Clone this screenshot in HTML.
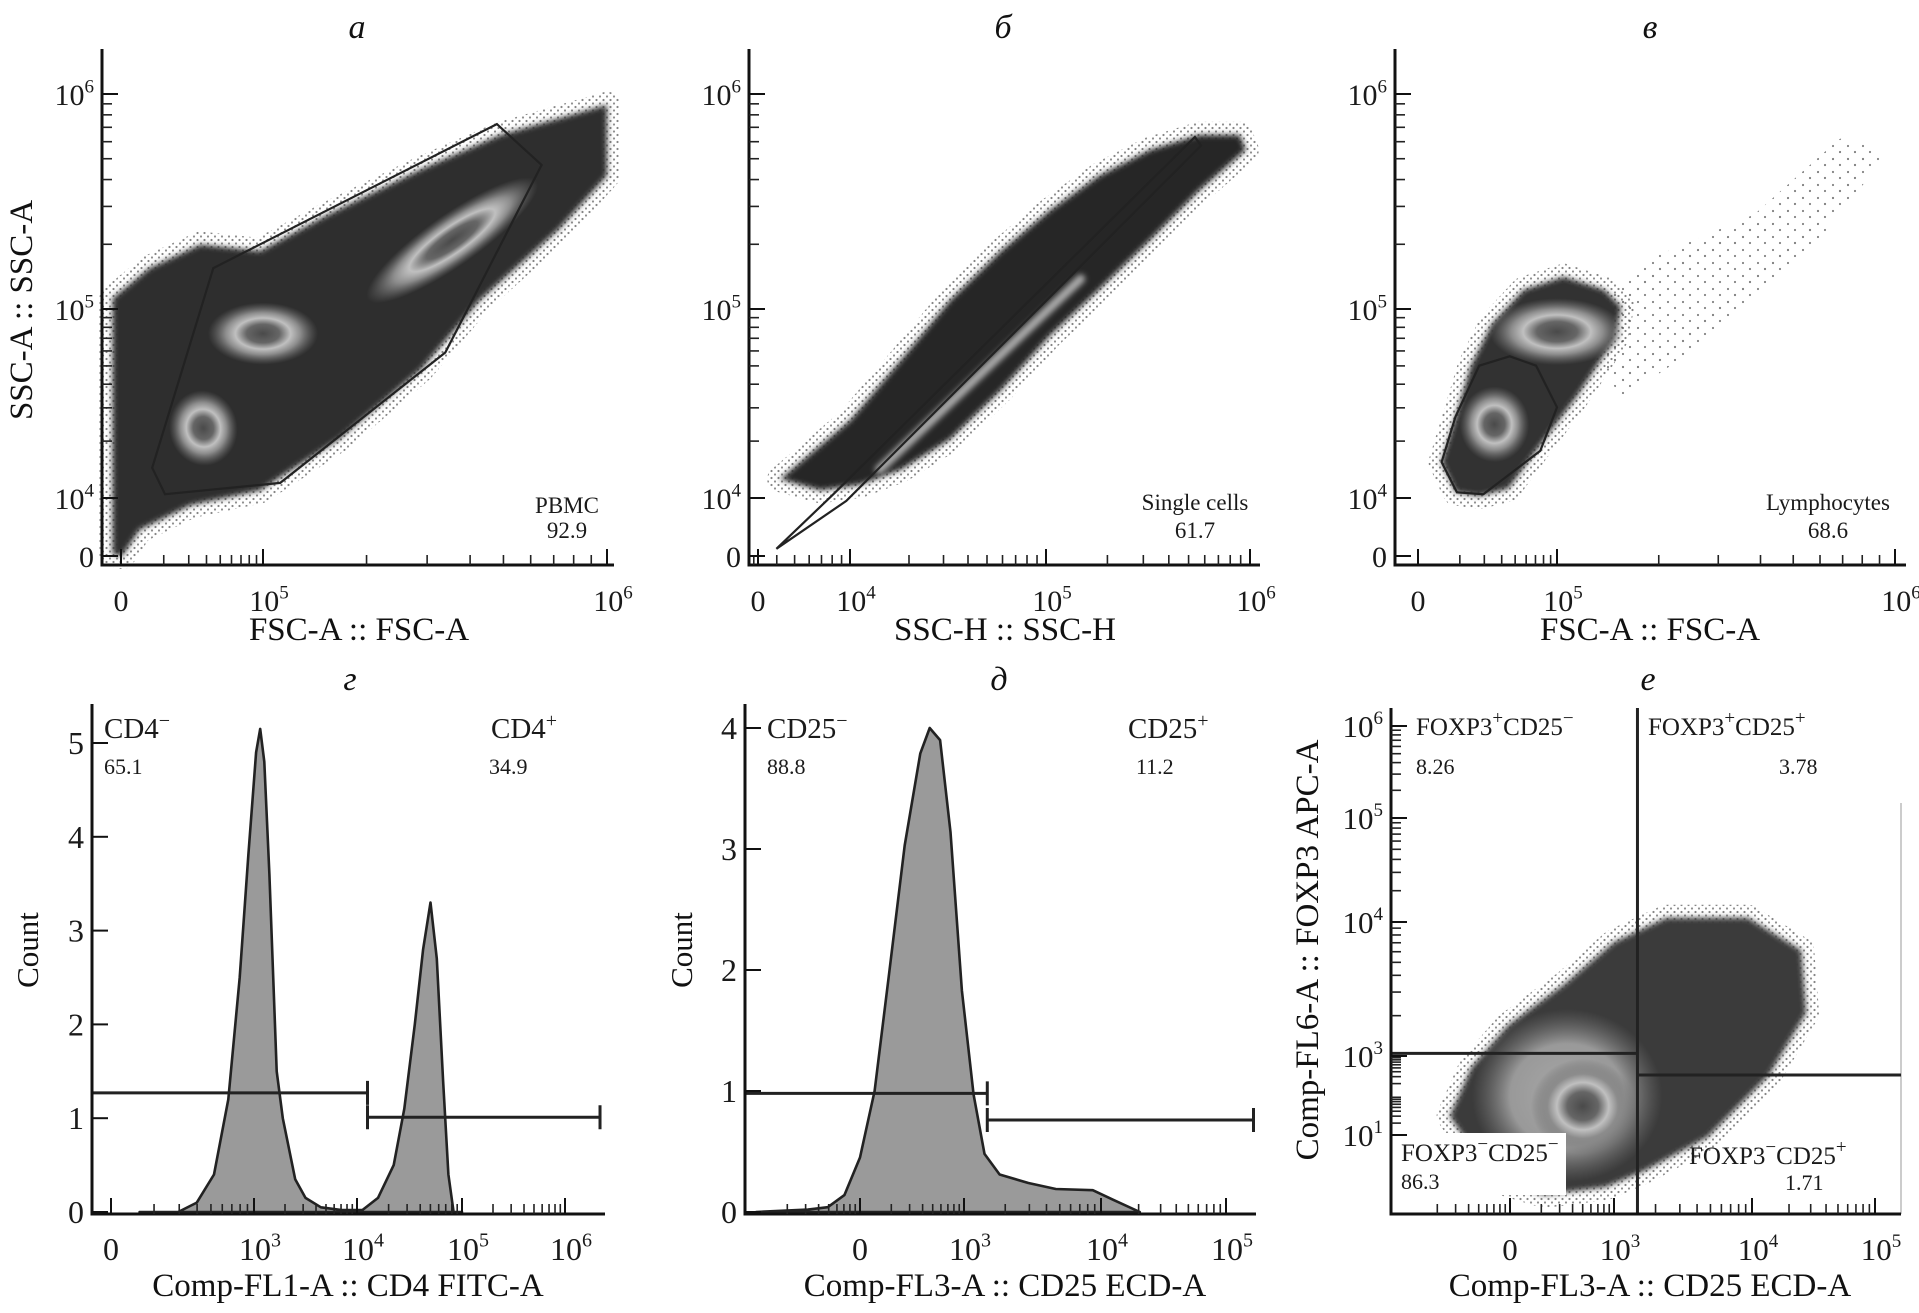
<!DOCTYPE html>
<html><head><meta charset="utf-8">
<style>
html,body{margin:0;padding:0;background:#fff;}
svg{display:block;font-family:"Liberation Serif","Noto Serif CJK SC",serif;}
</style></head>
<body>
<svg id="fig" width="1919" height="1313" viewBox="0 0 1919 1313" xmlns="http://www.w3.org/2000/svg">
<defs>
<pattern id="dots" width="7" height="7" patternUnits="userSpaceOnUse"><circle cx="1.5" cy="2" r="1.1" fill="#222"/><circle cx="5" cy="5.5" r="1.1" fill="#333"/></pattern>
<pattern id="sparse" width="15" height="13" patternUnits="userSpaceOnUse"><circle cx="3" cy="3" r="1.1" fill="#333"/><circle cx="10" cy="9" r="1.1" fill="#333"/></pattern>
<radialGradient id="ring"><stop offset="0" stop-color="#4a4a4a"/><stop offset="0.3" stop-color="#666"/><stop offset="0.5" stop-color="#c0c0c0"/><stop offset="0.68" stop-color="#8c8c8c"/><stop offset="1" stop-color="#6a6a6a" stop-opacity="0"/></radialGradient>
<radialGradient id="soft"><stop offset="0" stop-color="#a8a8a8"/><stop offset="0.6" stop-color="#999"/><stop offset="1" stop-color="#777" stop-opacity="0"/></radialGradient>
<filter id="blur" x="-10%" y="-10%" width="120%" height="120%"><feGaussianBlur stdDeviation="3"/></filter>
<clipPath id="eclip"><rect x="1392" y="700" width="510" height="513"/></clipPath>
</defs>
<rect x="0" y="0" width="1919" height="1313" fill="#fff"/>
</svg>
<script>
// ---------- data ----------
const yTopTicks=[3.6,4,5,6];
const yTopLabels=['0','10^4','10^5','10^6'];
const aXTicks=[4,5,6];
const aXLabels=['0','10^5','10^6'];
const bXTicks=[3.5,4,5,6];
const bXLabels=['0','10^4','10^5','10^6'];
const cXTicks=[4,5,6];
const cXLabels=['0','10^5','10^6'];
const gXTicks=[2,3,4,5,6];
const gXLabels=['0','10^3','10^4','10^5','10^6'];
const gYTicks=[0,1,2,3,4,5];
const dXTicks=[2,3,4,5];
const dXLabels=['0','10^3','10^4','10^5'];
const dYTicks=[0,1,2,3,4];
const eXTicks=[2,3,4,5];
const eXLabels=['0','10^3','10^4','10^5'];
const eYTicks=[1,3,4,5,6];
const eYLabels=['10^1','10^3','10^4','10^5','10^6'];

// histogram г (CD4)
const gX=[2.2,2.47,2.6,2.72,2.82,2.9,2.96,3.02,3.06,3.1,3.15,3.22,3.28,3.4,3.5,3.65,3.85,4.0,4.05,4.2,4.35,4.45,4.55,4.63,4.70,4.76,4.82,4.87,4.92,5.0];
const gCount=[0,0,0.1,0.4,1.2,2.5,3.8,4.9,5.15,4.8,3.6,1.5,1.0,0.35,0.15,0.05,0.02,0.02,0.02,0.15,0.5,1.1,2.0,2.8,3.3,2.7,1.4,0.4,0,0];
const gGateLeftX=[1.87,4.10], gGateRightX=[4.10,6.34], gGateY=[1.27,1.01];
// histogram д (CD25)
const dX=[1.0,1.5,1.69,1.85,2.0,2.14,2.28,2.43,2.58,2.67,2.77,2.87,2.98,3.07,3.15,3.26,3.47,3.67,3.94,4.10,4.31];
const dCount=[0,0.02,0.04,0.14,0.45,1.0,1.97,3.03,3.79,4.0,3.9,3.14,1.83,0.97,0.48,0.31,0.24,0.19,0.18,0.1,0];
const dGateLeftX=[0.9,3.17], dGateRightX=[3.17,5.22], dGateY=[0.98,0.76];

// scatter clouds (axis units: log10)
const aCloudX=[3.94,3.94,4.20,4.56,4.98,5.19,5.46,5.69,5.89,6.0,6.0,5.86,5.63,5.46,5.22,4.98,4.49,4.13,4.01];
const aCloudY=[3.61,5.05,5.19,5.30,5.27,5.44,5.65,5.81,5.90,5.95,5.62,5.37,5.04,4.68,4.31,4.04,3.95,3.78,3.6];
const aBlobX=[4.58,5.0,5.55], aBlobY=[4.37,4.87,5.32], aBlobR=[0.24,0.16,0.3], aBlobRy=[0.2,0.16,0.12], aBlobRot=[-10,0,-35];
const aGateX=[4.22,4.31,5.05,5.53,5.81,5.68,4.65];
const aGateY=[4.16,4.02,4.08,4.77,5.67,5.86,5.19];

const bCloudX=[3.62,3.78,4.0,4.26,4.51,4.77,5.02,5.26,5.51,5.75,5.95,5.98,5.75,5.51,5.26,5.02,4.77,4.51,4.26,4.05,3.84];
const bCloudY=[4.10,4.23,4.41,4.73,5.04,5.27,5.46,5.62,5.74,5.81,5.81,5.74,5.55,5.32,5.09,4.86,4.57,4.31,4.15,4.07,4.04];
const bStreakX=[4.15,5.17], bStreakY=[4.15,5.14];
const bGateX=[3.60,3.91,5.73,5.76,3.98];
const bGateY=[3.65,4.02,5.80,5.76,3.98];

const cCloudX=[4.17,4.27,4.44,4.65,4.88,5.06,5.17,5.19,5.14,5.02,4.76,4.53,4.38,4.27];
const cCloudY=[4.19,4.03,4.01,4.05,4.28,4.54,4.84,5.01,5.09,5.15,5.09,4.92,4.70,4.43];
const cTailX=[5.1,5.3,5.6,5.85,5.93,5.75,5.45,5.2], cTailY=[4.95,5.2,5.4,5.75,5.7,5.35,4.9,4.6];
const cBlobX=[4.55,5.0], cBlobY=[4.39,4.88], cBlobR=[0.25,0.2], cBlobRy=[0.2,0.17];
const cGateX=[4.17,4.28,4.47,4.88,5.0,4.85,4.66,4.44,4.27];
const cGateY=[4.19,4.03,4.02,4.25,4.48,4.70,4.75,4.70,4.43];

const eCloudX=[1.42,1.82,2.33,2.92,3.23,3.68,4.14,4.44,4.40,3.97,3.38,3.0,2.53,1.98,1.63];
const eCloudY=[1.48,-0.11,-0.52,-0.32,0.11,0.95,2.52,3.32,3.79,4.04,4.04,3.85,3.54,3.23,2.72];
const eSoftX=[2.55], eSoftY=[2.0], eSoftR=[0.8], eSoftRy=[1.35];
const eBlobX=[2.70], eBlobY=[1.73], eBlobR=[0.45], eBlobRy=[1.2];
const eQuadX=3.17, eQuadYLeft=3.02, eQuadYRight=2.52;

// ---------- helpers ----------
const NS='http://www.w3.org/2000/svg';
const svg=document.getElementById('fig');
function el(tag,attrs,parent){const e=document.createElementNS(NS,tag);for(const k in attrs)e.setAttribute(k,attrs[k]);(parent||svg).appendChild(e);return e;}
function scale(d,r){return function(v){let i=1;while(i<d.length-1&&v>d[i])i++;return r[i-1]+(v-d[i-1])*(r[i]-r[i-1])/(d[i]-d[i-1]);};}
function label(parent,x,y,str,size,anchor,name){
  const t=el('text',{x:x,y:y,'font-size':size,'text-anchor':anchor||'middle',fill:'#1a1a1a'},parent);
  
  
  const parts=str.split('^');
  t.appendChild(document.createTextNode(parts[0]));
  if(parts[1]){const s=el('tspan',{'font-size':Math.round(size*0.62),dy:-size*0.42},t);s.textContent=parts[1];}
  return t;
}
function poly(xs,ys,sx,sy){return xs.map((v,i)=>sx(v).toFixed(1)+','+sy(ys[i]).toFixed(1)).join(' ');}

function drawAxes(g,p){
  const ax=el('line',{x1:p.x0,y1:p.yTop,x2:p.x0,y2:p.y0,stroke:'#111','stroke-width':3},g);
  
  
  const bx=el('line',{x1:p.x0-1.5,y1:p.y0,x2:p.xEnd,y2:p.y0,stroke:'#111','stroke-width':3},g);
  
  
  p.xTicks.forEach((v,i)=>{
    const x=p.sx(v);
    const t=el('line',{x1:x,y1:p.y0,x2:x,y2:p.y0-16,stroke:'#111','stroke-width':2},g);
    
    
    label(g,x+(p.xLabels[i]==='0'?0:6),p.y0+46,p.xLabels[i],p.tickFont,'middle','x-tick-label');
  });
  (p.xMinor||[]).forEach(dec=>{for(let k=2;k<10;k++){const v=dec+Math.log10(k);const x=p.sx(v);if(x<p.x0+4||x>p.xEnd-2)continue;
    const t=el('line',{x1:x,y1:p.y0,x2:x,y2:p.y0-10,stroke:'#222','stroke-width':1.6},g);
    
    }});
  p.yTicks.forEach((v,i)=>{
    const y=p.sy(v);
    const t=el('line',{x1:p.x0,y1:y,x2:p.x0+16,y2:y,stroke:'#111','stroke-width':2},g);
    
    
    label(g,p.x0-8,y+11,p.yLabels[i],p.tickFont,'end','y-tick-label');
  });
  (p.yMinor||[]).forEach(dec=>{for(let k=2;k<10;k++){const v=dec+Math.log10(k);const y=p.sy(v);
    const t=el('line',{x1:p.x0,y1:y,x2:p.x0+10,y2:y,stroke:'#222','stroke-width':1.6},g);
    
    }});
}
function cloud(g,xs,ys,sx,sy,fill){
  const pts=poly(xs,ys,sx,sy);
  const h=el('polygon',{points:pts,fill:'none',stroke:'url(#dots)','stroke-width':26,'stroke-linejoin':'round',opacity:0.55},g);
  
  
  const c=el('polygon',{points:pts,fill:fill||'#2f2f2f',filter:'url(#blur)'},g);
  
  
}
function blobs(g,xs,ys,rxs,rys,rots,sx,sy,grad){
  xs.forEach((v,i)=>{
    const cx=sx(v),cy=sy(ys[i]);
    const rx=Math.abs(sx(v+rxs[i])-cx), ry=Math.abs(sy(ys[i]+rys[i])-cy);
    const e=el('ellipse',{cx:cx,cy:cy,rx:rx,ry:ry,fill:'url(#'+(grad||'ring')+')',transform:'rotate('+(rots?rots[i]:0)+' '+cx+' '+cy+')'},g);
    
    
  });
}
function panelTitle(x,y,txt,name){const t=el('text',{x:x,y:y,'font-size':34,'font-style':'italic','text-anchor':'middle',fill:'#111'});t.textContent=txt;
  
  }
function axisTitle(g,x,y,txt,rot,name,size){const t=el('text',{x:x,y:y,'font-size':size||33,'text-anchor':'middle',fill:'#111',transform:rot?'rotate(-90 '+x+' '+y+')':''},g);t.textContent=txt;
  
  }
function gate(g,xs,ys,sx,sy){const p=el('polygon',{points:poly(xs,ys,sx,sy),fill:'none',stroke:'#222','stroke-width':2.2},g);
  
  }
function note(g,x,y,txt,size,anchor,name){const t=el('text',{x:x,y:y,'font-size':size,'text-anchor':anchor||'middle',fill:'#1a1a1a'},g);t.textContent=txt;
  
  return t;}
function histo(g,xs,cs,sx,sy){
  let d='M'+sx(xs[0]).toFixed(1)+','+sy(0);
  xs.forEach((v,i)=>{d+=' L'+sx(v).toFixed(1)+','+sy(cs[i]).toFixed(1);});
  d+=' L'+sx(xs[xs.length-1]).toFixed(1)+','+sy(0)+' Z';
  const p=el('path',{d:d,fill:'#9a9a9a',stroke:'#222','stroke-width':2.6,'stroke-linejoin':'round'},g);
  
  
}
function bar(g,x1,x2,y,sx,sy,name){
  const a=sx(x1),b=sx(x2),yy=sy(y);
  const l=el('path',{d:'M'+a+','+yy+' L'+b+','+yy+' M'+b+','+(yy-12)+' L'+b+','+(yy+12)+(x1>2.5?' M'+a+','+(yy-12)+' L'+a+','+(yy+12):''),stroke:'#222','stroke-width':3,fill:'none'},g);
  
  
}

// ---------- panel а ----------
{
  const g=el('g',{});
  
  
  const sx=scale([4,5,6],[121,263,607]);
  const sy=scale([3.6,4,5,6],[556,498,309,94]);
  cloud(g,aCloudX,aCloudY,sx,sy);
  blobs(g,aBlobX,aBlobY,aBlobR,aBlobRy,aBlobRot,sx,sy,'ring');
  gate(g,aGateX,aGateY,sx,sy);
  drawAxes(g,{x0:102,y0:565,yTop:49,xEnd:614,sx:sx,sy:sy,xTicks:aXTicks,xLabels:aXLabels,yTicks:yTopTicks,yLabels:yTopLabels,tickFont:30,xMinor:[4,5],yMinor:[4,5]});
  panelTitle(357,38,'а','panel-a-title');
  axisTitle(g,359,640,'FSC-A :: FSC-A',false,'x-axis-title');
  axisTitle(g,32,310,'SSC-A :: SSC-A',true,'y-axis-title');
  note(g,567,513,'PBMC',23,'middle','gate-name');
  note(g,567,538,'92.9',23,'middle','gate-percent');
}
// ---------- panel б ----------
{
  const g=el('g',{});
  
  
  const sx=scale([3.5,4,5,6],[758,850,1046,1250]);
  const sy=scale([3.6,4,5,6],[556,498,309,94]);
  cloud(g,bCloudX,bCloudY,sx,sy,'#262626');
  const s=el('line',{x1:sx(bStreakX[0]),y1:sy(bStreakY[0]),x2:sx(bStreakX[1]),y2:sy(bStreakY[1]),stroke:'#aaa','stroke-width':9,'stroke-linecap':'round',filter:'url(#blur)'},g);
  
  
  gate(g,bGateX,bGateY,sx,sy);
  drawAxes(g,{x0:749,y0:565,yTop:49,xEnd:1260,sx:sx,sy:sy,xTicks:bXTicks,xLabels:bXLabels,yTicks:yTopTicks,yLabels:yTopLabels,tickFont:30,xMinor:[3,4,5],yMinor:[4,5]});
  panelTitle(1003,38,'б','panel-b-title');
  axisTitle(g,1005,640,'SSC-H :: SSC-H',false,'x-axis-title');
  note(g,1195,510,'Single cells',23,'middle','gate-name');
  note(g,1195,538,'61.7',23,'middle','gate-percent');
}
// ---------- panel в ----------
{
  const g=el('g',{});
  
  
  const sx=scale([4,5,6],[1418,1557,1895]);
  const sy=scale([3.6,4,5,6],[556,498,309,94]);
  const tail=el('polygon',{points:poly(cTailX,cTailY,sx,sy),fill:'url(#sparse)',stroke:'url(#sparse)','stroke-width':20,'stroke-linejoin':'round',opacity:0.6},g);
  
  
  cloud(g,cCloudX,cCloudY,sx,sy,'#333');
  blobs(g,cBlobX,cBlobY,cBlobR,cBlobRy,[0,0],sx,sy,'ring');
  gate(g,cGateX,cGateY,sx,sy);
  drawAxes(g,{x0:1395,y0:565,yTop:49,xEnd:1906,sx:sx,sy:sy,xTicks:cXTicks,xLabels:cXLabels,yTicks:yTopTicks,yLabels:yTopLabels,tickFont:30,xMinor:[4,5],yMinor:[4,5]});
  panelTitle(1650,38,'в','panel-c-title');
  axisTitle(g,1650,640,'FSC-A :: FSC-A',false,'x-axis-title');
  note(g,1828,510,'Lymphocytes',23,'middle','gate-name');
  note(g,1828,538,'68.6',23,'middle','gate-percent');
}
// ---------- panel г ----------
{
  const g=el('g',{});
  
  
  const sx=scale([2,3,4,5,6],[111,254,357,462,565]);
  const sy=scale([0,5],[1212,743]);
  histo(g,gX,gCount,sx,sy);
  bar(g,gGateLeftX[0],gGateLeftX[1],gGateY[0],sx,sy,'cd4-negative-gate');
  bar(g,gGateRightX[0],gGateRightX[1],gGateY[1],sx,sy,'cd4-positive-gate');
  drawAxes(g,{x0:92,y0:1214,yTop:704,xEnd:605,sx:sx,sy:sy,xTicks:gXTicks,xLabels:gXLabels,yTicks:gYTicks,yLabels:gYTicks.map(String),tickFont:32,xMinor:[2,3,4,5]});
  panelTitle(350,690,'г','panel-d-title');
  axisTitle(g,348,1296,'Comp-FL1-A :: CD4 FITC-A',false,'x-axis-title');
  axisTitle(g,38,950,'Count',true,'y-axis-title',31);
  const n1=el('text',{x:104,y:738,'font-size':29,fill:'#1a1a1a'},g);n1.innerHTML='CD4<tspan font-size="20" dy="-11">−</tspan>';
  
  
  note(g,104,774,'65.1',22,'start','cd4-negative-percent');
  const n2=el('text',{x:491,y:738,'font-size':29,fill:'#1a1a1a'},g);n2.innerHTML='CD4<tspan font-size="20" dy="-11">+</tspan>';
  
  
  note(g,489,774,'34.9',22,'start','cd4-positive-percent');
}
// ---------- panel д ----------
{
  const g=el('g',{});
  
  
  const sx=scale([2,3,4,5],[860,964,1101,1226]);
  const sy=scale([0,4],[1212,728]);
  histo(g,dX,dCount,sx,sy);
  bar(g,dGateLeftX[0],dGateLeftX[1],dGateY[0],sx,sy,'cd25-negative-gate');
  bar(g,dGateRightX[0],dGateRightX[1],dGateY[1],sx,sy,'cd25-positive-gate');
  drawAxes(g,{x0:745,y0:1214,yTop:704,xEnd:1256,sx:sx,sy:sy,xTicks:dXTicks,xLabels:dXLabels,yTicks:dYTicks,yLabels:dYTicks.map(String),tickFont:32,xMinor:[1,2,3,4]});
  panelTitle(999,690,'д','panel-e-title');
  axisTitle(g,1005,1296,'Comp-FL3-A :: CD25 ECD-A',false,'x-axis-title');
  axisTitle(g,692,950,'Count',true,'y-axis-title',31);
  const n1=el('text',{x:767,y:738,'font-size':29,fill:'#1a1a1a'},g);n1.innerHTML='CD25<tspan font-size="20" dy="-11">−</tspan>';
  
  
  note(g,767,774,'88.8',22,'start','cd25-negative-percent');
  const n2=el('text',{x:1128,y:738,'font-size':29,fill:'#1a1a1a'},g);n2.innerHTML='CD25<tspan font-size="20" dy="-11">+</tspan>';
  
  
  note(g,1136,774,'11.2',22,'start','cd25-positive-percent');
}
// ---------- panel е ----------
{
  const g=el('g',{});
  
  
  const sx=scale([2,3,4,5],[1510,1614,1752,1875]);
  const sy=scale([1,3,4,5,6],[1135,1056,922,818,726]);
  const plot=el('g',{'clip-path':'url(#eclip)'},g);
  
  
  cloud(plot,eCloudX,eCloudY,sx,sy,'#3a3a3a');
  blobs(plot,eSoftX,eSoftY,eSoftR,eSoftRy,[0],sx,sy,'soft');
  blobs(plot,eBlobX,eBlobY,eBlobR,eBlobRy,[0],sx,sy,'ring');
  const border=el('line',{x1:1901,y1:803,x2:1901,y2:1214,stroke:'#bbb','stroke-width':1.5},g);
  
  
  const qx=sx(eQuadX);
  const v=el('line',{x1:qx,y1:708,x2:qx,y2:1214,stroke:'#222','stroke-width':3},g);
  
  
  const h1=el('line',{x1:1391,y1:sy(eQuadYLeft),x2:qx,y2:sy(eQuadYLeft),stroke:'#222','stroke-width':3},g);
  
  
  const h2=el('line',{x1:qx,y1:sy(eQuadYRight),x2:1901,y2:sy(eQuadYRight),stroke:'#222','stroke-width':3},g);
  
  
  const bg=el('rect',{x:1396,y:1133,width:170,height:62,fill:'#fff'},g);
  
  
  drawAxes(g,{x0:1391,y0:1214,yTop:708,xEnd:1901,sx:sx,sy:sy,xTicks:eXTicks,xLabels:eXLabels,yTicks:eYTicks,yLabels:eYLabels,tickFont:31,xMinor:[1,2,3,4],yMinor:[1,2,3,4,5]});
  panelTitle(1648,690,'е','panel-f-title');
  axisTitle(g,1650,1296,'Comp-FL3-A :: CD25 ECD-A',false,'x-axis-title');
  axisTitle(g,1318,950,'Comp-FL6-A :: FOXP3 APC-A',true,'y-axis-title');
  const q=[[1416,735,'FOXP3<tspan font-size="19" dy="-11">+</tspan><tspan dy="11">CD25</tspan><tspan font-size="19" dy="-11">−</tspan>','q-foxp3pos-cd25neg-label'],
           [1648,735,'FOXP3<tspan font-size="19" dy="-11">+</tspan><tspan dy="11">CD25</tspan><tspan font-size="19" dy="-11">+</tspan>','q-foxp3pos-cd25pos-label'],
           [1401,1161,'FOXP3<tspan font-size="19" dy="-11">−</tspan><tspan dy="11">CD25</tspan><tspan font-size="19" dy="-11">−</tspan>','q-foxp3neg-cd25neg-label'],
           [1689,1164,'FOXP3<tspan font-size="19" dy="-11">−</tspan><tspan dy="11">CD25</tspan><tspan font-size="19" dy="-11">+</tspan>','q-foxp3neg-cd25pos-label']];
  q.forEach(r=>{const t=el('text',{x:r[0],y:r[1],'font-size':25,fill:'#1a1a1a'},g);t.innerHTML=r[2];
    
    });
  note(g,1416,774,'8.26',22,'start','q-ul-percent');
  note(g,1779,774,'3.78',22,'start','q-ur-percent');
  note(g,1401,1189,'86.3',22,'start','q-ll-percent');
  note(g,1785,1190,'1.71',22,'start','q-lr-percent');
}
</script>
</body></html>
